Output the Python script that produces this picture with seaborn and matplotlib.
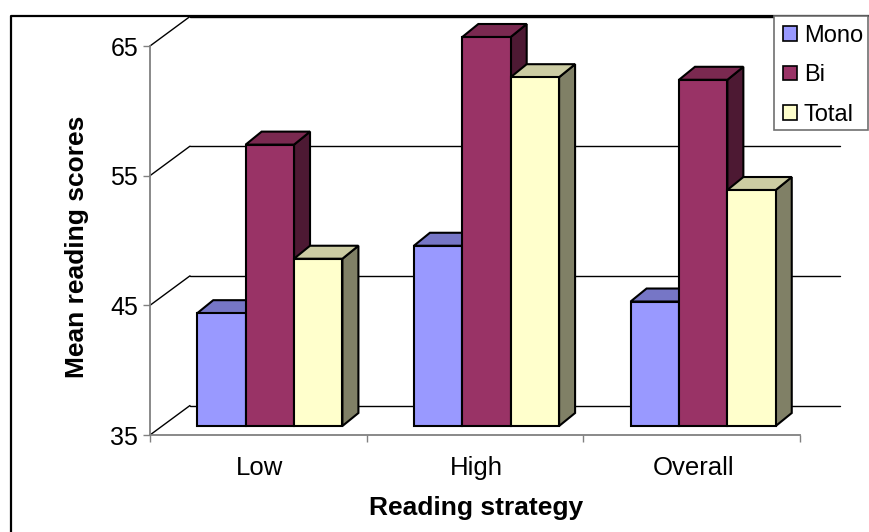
# plot.py - 3D style clustered bars of mean reading scores

import pandas as pd
import seaborn as sns
import matplotlib.pyplot as plt
from matplotlib.lines import Line2D
from matplotlib.patches import Patch, Polygon, Rectangle

categories = ["Low", "High", "Overall"]
series = ["Mono", "Bi", "Total"]
mono = [43.7, 48.9, 44.6]
bi = [56.7, 65.0, 61.7]
total = [47.9, 61.9, 53.2]
y_ticks = [35, 45, 55, 65]

front = ["#9999FF", "#993366", "#FFFFCC"]
top_face = ["#7676C6", "#7A2950", "#CCCCA3"]
side_face = ["#4D4D80", "#4D1933", "#808066"]

W, H = 869, 532
AX_L, AX_R, AX_T, AX_B = 150, 800, 46, 435  # axes box in pixels

sns.set_theme(style="white")
plt.rcParams["font.family"] = ["Liberation Sans", "DejaVu Sans"]

data = pd.DataFrame({
    "strategy": categories * 3,
    "group": [s for s in series for _ in categories],
    "score": mono + bi + total,
})

fig = plt.figure(figsize=(W / 100, H / 100), dpi=100)
ax = fig.add_axes([AX_L / W, 1 - AX_B / H, (AX_R - AX_L) / W, (AX_B - AX_T) / H])
ax.patch.set_alpha(0)

sns.barplot(data=data, x="strategy", y="score", hue="group", order=categories,
            hue_order=series, palette=front, width=0.67, gap=0, saturation=1,
            edgecolor="black", linewidth=1.5, legend=False, ax=ax)
ax.set_xlim(-0.5, 2.5)
ax.set_ylim(35, 65)

# pixels to data units
px_x = 3 / (AX_R - AX_L)
px_y = 30 / (AX_B - AX_T)

# back wall
wall_x, wall_y = 40 * px_x, 29.5 * px_y
for v in y_ticks:
    ax.plot([-0.5 + wall_x, 2.5 + wall_x], [v + wall_y] * 2, color="black", lw=1,
            clip_on=False, zorder=1)
    ax.plot([-0.5, -0.5 + wall_x], [v, v + wall_y], color="black", lw=1,
            clip_on=False, zorder=1)

# bars sit halfway into the floor, with a side and a top face
shift_x, shift_y = 11.5 * px_x, 9 * px_y
depth_x, depth_y = 16 * px_x, 13 * px_y
order = 3
for cat in range(3):
    for i, cont in enumerate(ax.containers):
        bar = cont[cat]
        value = bar.get_height()
        x0 = bar.get_x() + shift_x
        x1 = x0 + bar.get_width()
        y0 = 35 + shift_y
        y1 = value + shift_y
        bar.set_x(x0)
        bar.set_y(y0)
        bar.set_height(value - 35)
        bar.set_clip_on(False)
        bar.set_joinstyle("miter")
        side = Polygon([(x1, y0), (x1 + depth_x, y0 + depth_y),
                        (x1 + depth_x, y1 + depth_y), (x1, y1)],
                       fc=side_face[i], ec="black", lw=1.5, clip_on=False, zorder=order)
        top = Polygon([(x0, y1), (x0 + depth_x, y1 + depth_y),
                       (x1 + depth_x, y1 + depth_y), (x1, y1)],
                      fc=top_face[i], ec="black", lw=1.5, clip_on=False, zorder=order)
        ax.add_patch(side)
        ax.add_patch(top)
        bar.set_zorder(order + 0.5)
        order += 1

sns.despine(ax=ax, top=True, right=True)
for name in ["left", "bottom"]:
    ax.spines[name].set_color("#808080")
    ax.spines[name].set_linewidth(1.3)

ax.set_yticks(y_ticks)
ax.set_xticks([-0.5, 0.5, 1.5, 2.5])
ax.set_xticklabels([])
ax.tick_params(axis="both", which="major", left=True, bottom=True, length=5, width=1,
               color="#808080", labelsize=18, labelcolor="black", pad=3.5)
for i, name in enumerate(categories):
    ax.text(i + 1.5 * px_x, 35 - 21 * px_y, name, ha="center", va="top", fontsize=18.5,
            color="black")

ax.set_xlabel("")
ax.set_ylabel("")
fig.text(476 / W, 1 - 508 / H, "Reading strategy", ha="center", va="center",
         fontsize=19, fontweight="bold", color="black")
fig.text(77 / W, 1 - 247 / H, "Mean reading scores", ha="center", va="center",
         rotation=90, fontsize=19, fontweight="bold", color="black")

# chart frame, open at the bottom and the right
fig.add_artist(Line2D([11 / W, 11 / W, 1], [0, 1 - 15.5 / H, 1 - 15.5 / H],
                      transform=fig.transFigure, color="black", lw=1.6))

# legend box
fig.add_artist(Rectangle((774 / W, 1 - 130 / H), 93.5 / W, 114.5 / H, transform=fig.transFigure,
                         fc="white", ec="#707070", lw=1.2, zorder=19))
handles = [Patch(fc=c, ec="black", lw=1.2, label=s) for c, s in zip(front, series)]
leg = fig.legend(handles=handles, loc="upper left",
                 bbox_to_anchor=(774 / W, 1 - 16 / H), bbox_transform=fig.transFigure,
                 fontsize=17, frameon=False, borderaxespad=0, borderpad=0.38,
                 labelspacing=0.74, handlelength=0.58, handleheight=0.58,
                 handletextpad=0.3, labelcolor="black")
leg.set_zorder(20)

fig.savefig("out.png", dpi=100)
